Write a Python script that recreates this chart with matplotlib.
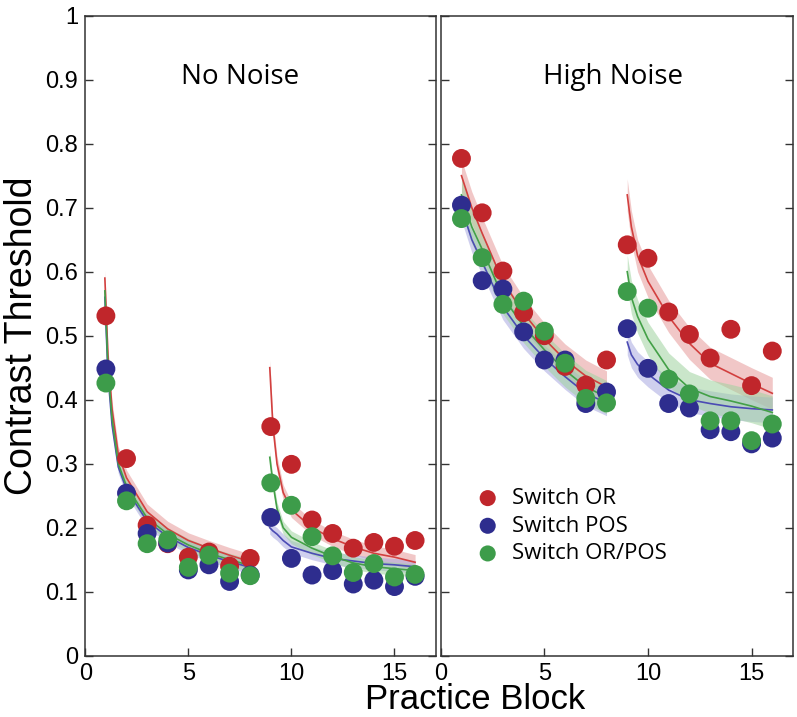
import numpy as np
import matplotlib
matplotlib.use("Agg")
import matplotlib.pyplot as plt

plt.rcParams['font.family'] = ['Liberation Sans', 'DejaVu Sans']

blocks = np.arange(1, 17)

# measured thresholds, blocks 1-16
nn_or = [0.531, 0.308, 0.204, 0.175, 0.154, 0.162, 0.140, 0.152,
         0.358, 0.299, 0.212, 0.191, 0.168, 0.177, 0.171, 0.180]
nn_pos = [0.448, 0.254, 0.191, 0.176, 0.134, 0.142, 0.116, 0.126,
          0.216, 0.152, 0.126, 0.133, 0.112, 0.118, 0.108, 0.124]
nn_orpos = [0.426, 0.242, 0.175, 0.181, 0.138, 0.157, 0.129, 0.125,
            0.270, 0.235, 0.186, 0.156, 0.130, 0.144, 0.123, 0.127]

hn_or = [0.777, 0.692, 0.601, 0.536, 0.500, 0.452, 0.423, 0.462,
         0.642, 0.621, 0.537, 0.502, 0.465, 0.510, 0.422, 0.476]
hn_pos = [0.704, 0.586, 0.573, 0.506, 0.462, 0.462, 0.394, 0.412,
          0.511, 0.449, 0.394, 0.387, 0.353, 0.350, 0.331, 0.340]
hn_orpos = [0.683, 0.622, 0.549, 0.554, 0.507, 0.457, 0.402, 0.395,
            0.569, 0.543, 0.432, 0.409, 0.367, 0.367, 0.336, 0.362]

# model fits (two phases per panel)
nn_fx1 = [0.95, 1.1, 1.3, 1.6, 2, 3, 4, 5, 6, 7, 8]
nn_fx2 = [8.95, 9.1, 9.3, 9.6, 10, 11, 12, 13, 14, 15, 16]
nn_fit_or = [0.59, 0.47, 0.385, 0.315, 0.278, 0.225, 0.198, 0.18, 0.168, 0.157, 0.147,
             0.45, 0.36, 0.30, 0.255, 0.228, 0.20, 0.183, 0.17, 0.16, 0.154, 0.146]
nn_fit_pos = [0.56, 0.44, 0.36, 0.295, 0.26, 0.21, 0.186, 0.169, 0.157, 0.147, 0.138,
              0.20, 0.195, 0.19, 0.18, 0.17, 0.16, 0.152, 0.148, 0.144, 0.142, 0.139]
nn_fit_orpos = [0.57, 0.45, 0.37, 0.30, 0.265, 0.215, 0.19, 0.173, 0.16, 0.15, 0.141,
                0.31, 0.27, 0.23, 0.20, 0.185, 0.168, 0.155, 0.145, 0.139, 0.136, 0.133]

hn_fx1 = [1, 1.5, 2, 3, 4, 5, 6, 7, 8]
hn_fx2 = [9, 9.2, 9.5, 10, 11, 12, 13, 14, 15, 16]
hn_fit_or = [0.75, 0.70, 0.66, 0.585, 0.535, 0.495, 0.462, 0.437, 0.42,
             0.72, 0.67, 0.625, 0.585, 0.53, 0.488, 0.457, 0.441, 0.425, 0.41]
hn_fit_pos = [0.70, 0.65, 0.615, 0.545, 0.50, 0.465, 0.436, 0.41, 0.395,
              0.49, 0.47, 0.455, 0.44, 0.415, 0.40, 0.394, 0.389, 0.386, 0.384]
hn_fit_orpos = [0.72, 0.67, 0.635, 0.56, 0.515, 0.478, 0.446, 0.42, 0.404,
                0.60, 0.56, 0.53, 0.495, 0.447, 0.418, 0.405, 0.398, 0.39, 0.38]

nn_band = [0.012, 0.01, 0.01]
hn_band = [0.025, 0.02, 0.026]

labels = ["Switch OR", "Switch POS", "Switch OR/POS"]
dot_cols = ["#c0262b", "#2e2d8e", "#3d9c4a"]
line_cols = ["#d2403f", "#4b4bb4", "#43a047"]
band_cols = ["#e79a9a", "#a9a9e0", "#9fd39f"]

fig = plt.figure(figsize=(7.97, 7.17), dpi=100)
ax1 = fig.add_axes([0.107, 0.0855, 0.4397, 0.8926])
ax2 = fig.add_axes([0.553, 0.0855, 0.442, 0.8926])


def draw(ax, pts, fits, fx1, fx2, bands):
    n1 = len(fx1)
    for fit, lc, bc, bw in zip(fits, line_cols, band_cols, bands):
        for xs, ys in ((fx1, fit[:n1]), (fx2, fit[n1:])):
            ys = np.array(ys)
            ax.fill_between(xs, ys - bw, ys + bw, color=bc, alpha=0.55, lw=0, zorder=1)
            ax.plot(xs, ys, color=lc, lw=1.2, zorder=2)
    handles = []
    for i, (vals, c) in enumerate(zip(pts, dot_cols)):
        h = ax.scatter(blocks, vals, s=185, color=c, edgecolors='none', zorder=3 + i)
        handles.append(h)
    ax.set_xlim(0, 17)
    ax.set_ylim(0, 1)
    ax.set_xticks([0, 5, 10, 15])
    ax.set_yticks(np.arange(0, 1.01, 0.1))
    ax.tick_params(direction='in', length=6, width=1, labelsize=17,
                   left=True, right=True, top=False, colors='#333333',
                   labelcolor='black', pad=5)
    for sp in ax.spines.values():
        sp.set_color('#333333')
        sp.set_linewidth(1.1)
    return handles


draw(ax1, [nn_or, nn_pos, nn_orpos], [nn_fit_or, nn_fit_pos, nn_fit_orpos],
     nn_fx1, nn_fx2, nn_band)
handles = draw(ax2, [hn_or, hn_pos, hn_orpos], [hn_fit_or, hn_fit_pos, hn_fit_orpos],
               hn_fx1, hn_fx2, hn_band)

ax1.set_yticklabels(["0", "0.1", "0.2", "0.3", "0.4", "0.5", "0.6", "0.7", "0.8", "0.9", "1"])
ax2.tick_params(labelleft=False)

ax1.text(7.5, 0.905, "No Noise", ha='center', va='center', fontsize=20, family='Open Sans')
ax2.text(8.3, 0.905, "High Noise", ha='center', va='center', fontsize=20, family='Open Sans')

fig.text(0.027, 0.532, "Contrast Threshold", rotation=90, ha='center', va='center', fontsize=27)
fig.text(0.596, 0.024, "Practice Block", ha='center', va='center', fontsize=25)

ax2.legend(handles, labels, loc='upper left', bbox_to_anchor=(0.045, 0.276),
           frameon=False, prop={'family': 'Open Sans', 'size': 16},
           handletextpad=0.1, labelspacing=0.3, markerscale=0.85,
           borderaxespad=0)

fig.savefig("out.png", dpi=100)
